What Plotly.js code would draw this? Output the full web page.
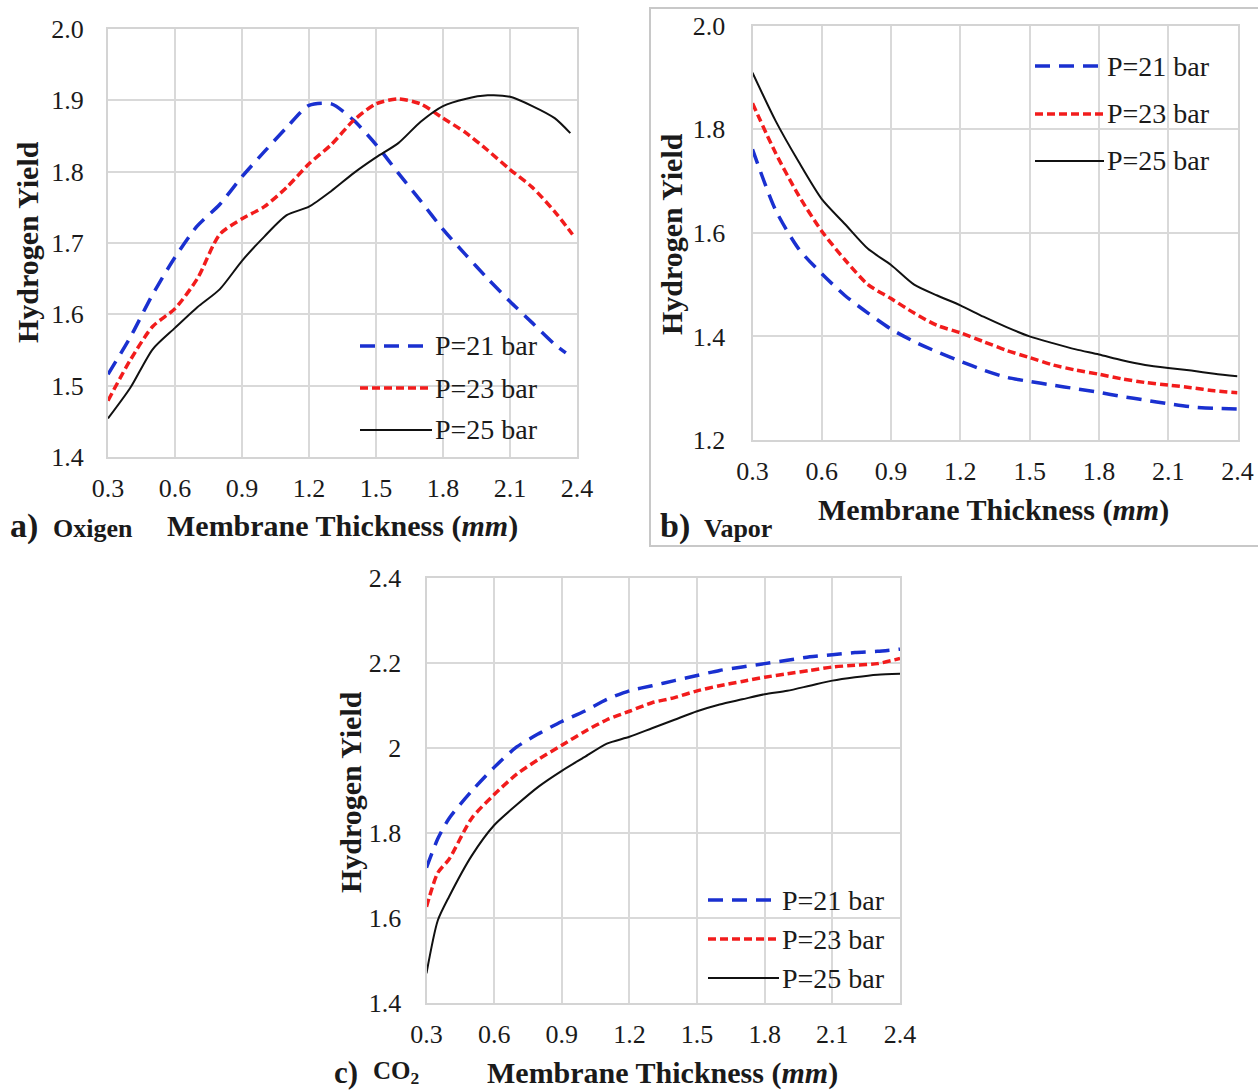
<!DOCTYPE html>
<html>
<head>
<meta charset="utf-8">
<script src="https://cdn.plot.ly/plotly-3.0.1.min.js"></script>
<style>html,body{margin:0;padding:0;background:#fff;}#chart{width:1258px;height:1091px;}</style>
</head>
<body>
<div id="chart"></div>
<script>
// ---------- data ----------
const seriesNames = ['P=21 bar', 'P=23 bar', 'P=25 bar'];

const xTickVals = [0.3, 0.6, 0.9, 1.2, 1.5, 1.8, 2.1, 2.4];
const xTickText = ['0.3', '0.6', '0.9', '1.2', '1.5', '1.8', '2.1', '2.4'];

// (a) Oxigen
const xA21 = [0.3,0.4,0.5,0.6,0.7,0.8,0.9,1.0,1.1,1.2,1.3,1.4,1.5,1.6,1.7,1.8,1.9,2.0,2.1,2.2,2.3,2.35];
const yA21 = [1.516,1.568,1.628,1.680,1.724,1.754,1.793,1.828,1.862,1.893,1.895,1.872,1.838,1.798,1.759,1.719,1.684,1.650,1.618,1.588,1.558,1.546];
const xA23 = [0.3,0.4,0.5,0.6,0.7,0.8,0.9,1.0,1.1,1.2,1.3,1.4,1.5,1.6,1.7,1.8,1.9,2.0,2.1,2.2,2.3,2.38];
const yA23 = [1.479,1.536,1.583,1.608,1.650,1.712,1.734,1.751,1.778,1.811,1.838,1.872,1.895,1.902,1.895,1.875,1.855,1.830,1.803,1.778,1.744,1.712];
const xA25 = [0.3,0.4,0.5,0.6,0.7,0.8,0.9,1.0,1.1,1.2,1.3,1.4,1.5,1.6,1.7,1.8,1.9,2.0,2.1,2.2,2.3,2.37];
const yA25 = [1.454,1.497,1.551,1.581,1.610,1.635,1.675,1.709,1.739,1.751,1.773,1.798,1.820,1.840,1.870,1.892,1.902,1.907,1.905,1.892,1.875,1.854];
const yTickValsA = [1.4, 1.5, 1.6, 1.7, 1.8, 1.9, 2.0];
const yTickTextA = ['1.4', '1.5', '1.6', '1.7', '1.8', '1.9', '2.0'];

// (b) Vapor
const xB = [0.3,0.4,0.5,0.6,0.7,0.8,0.9,1.0,1.1,1.2,1.3,1.4,1.5,1.6,1.7,1.8,1.9,2.0,2.1,2.2,2.3,2.4];
const yB21 = [1.761,1.644,1.569,1.521,1.479,1.445,1.414,1.390,1.370,1.352,1.335,1.321,1.313,1.306,1.299,1.292,1.284,1.277,1.270,1.264,1.261,1.260];
const yB23 = [1.850,1.754,1.672,1.603,1.548,1.500,1.473,1.445,1.421,1.407,1.390,1.373,1.359,1.345,1.335,1.327,1.318,1.311,1.306,1.301,1.295,1.291];
const yB25 = [1.909,1.816,1.737,1.665,1.617,1.569,1.538,1.500,1.479,1.460,1.438,1.418,1.400,1.387,1.375,1.365,1.354,1.345,1.339,1.334,1.328,1.323];
const yTickValsB = [1.2, 1.4, 1.6, 1.8, 2.0];
const yTickTextB = ['1.2', '1.4', '1.6', '1.8', '2.0'];

// (c) CO2
const xC = [0.3,0.35,0.4,0.5,0.6,0.7,0.8,0.9,1.0,1.1,1.2,1.3,1.4,1.5,1.6,1.7,1.8,1.9,2.0,2.1,2.2,2.3,2.4];
const yC21 = [1.718,1.786,1.834,1.898,1.954,2.002,2.034,2.062,2.086,2.114,2.134,2.146,2.158,2.170,2.182,2.190,2.198,2.206,2.214,2.219,2.224,2.227,2.232];
const yC23 = [1.626,1.706,1.738,1.834,1.890,1.938,1.974,2.006,2.038,2.066,2.086,2.106,2.118,2.134,2.146,2.156,2.166,2.174,2.182,2.190,2.194,2.198,2.210];
const yC25 = [1.470,1.594,1.650,1.746,1.818,1.866,1.910,1.946,1.978,2.010,2.026,2.046,2.066,2.086,2.102,2.114,2.126,2.134,2.146,2.158,2.166,2.172,2.174];
const yTickValsC = [1.4, 1.6, 1.8, 2.0, 2.2, 2.4];
const yTickTextC = ['1.4', '1.6', '1.8', '2', '2.2', '2.4'];

// ---------- styling ----------
const W = 1258, H = 1091;
const FONT = '"Liberation Serif", "Times New Roman", serif';
const TXT = '#1a1a1a';
const BLUE = '#1a30d0', RED = '#f21c1c', BLACK = '#111111';
const styles = [
  {color: BLUE, width: 3.5, dash: '15px,9px'},
  {color: RED, width: 3.5, dash: '8px,4px'},
  {color: BLACK, width: 2, dash: 'solid'}
];
const px = v => v / W;
const py = v => 1 - v / H;

function tr(x, y, i, xa, ya) {
  return {x: x, y: y, type: 'scatter', mode: 'lines', name: seriesNames[i],
    xaxis: xa, yaxis: ya, showlegend: false,
    line: {color: styles[i].color, width: styles[i].width, dash: styles[i].dash, shape: 'spline', smoothing: 0.7},
    hoverinfo: 'x+y'};
}

const data = [
  tr(xA21, yA21, 0, 'x', 'y'), tr(xA23, yA23, 1, 'x', 'y'), tr(xA25, yA25, 2, 'x', 'y'),
  tr(xB, yB21, 0, 'x2', 'y2'), tr(xB, yB23, 1, 'x2', 'y2'), tr(xB, yB25, 2, 'x2', 'y2'),
  tr(xC, yC21, 0, 'x3', 'y3'), tr(xC, yC23, 1, 'x3', 'y3'), tr(xC, yC25, 2, 'x3', 'y3')
];

function xax(dom, anchor, standoff) {
  return {domain: dom, anchor: anchor, range: [0.3, 2.4], tickmode: 'array',
    tickvals: xTickVals, ticktext: xTickText, showgrid: true, gridcolor: '#d9d9d9', gridwidth: 2,
    showline: true, linecolor: '#d4d4d4', linewidth: 2, mirror: true, zeroline: false,
    ticks: '', ticklabelstandoff: standoff, tickfont: {family: FONT, size: 26, color: TXT}, fixedrange: true};
}
function yax(dom, anchor, range, vals, text, standoff) {
  return {domain: dom, anchor: anchor, range: range, tickmode: 'array',
    tickvals: vals, ticktext: text, showgrid: true, gridcolor: '#d9d9d9', gridwidth: 2,
    showline: true, linecolor: '#d4d4d4', linewidth: 2, mirror: true, zeroline: false,
    ticks: '', ticklabelstandoff: standoff, tickfont: {family: FONT, size: 26, color: TXT}, fixedrange: true};
}

const annotations = [];
const shapes = [];
function ann(text, x, y, size, opts) {
  annotations.push(Object.assign({text: text, x: px(x), y: py(y), xref: 'paper', yref: 'paper',
    showarrow: false, font: {family: FONT, size: size, color: TXT}, xanchor: 'center', yanchor: 'middle'}, opts || {}));
}
// axis titles
ann('<b>Hydrogen Yield</b>', 27, 242, 30, {textangle: -90});
ann('<b>Hydrogen Yield</b>', 672, 234, 30, {textangle: -90});
ann('<b>Hydrogen Yield</b>', 350, 792, 30, {textangle: -90});
ann('<b>Membrane Thickness (<i>mm</i>)</b>', 342, 526, 30);
ann('<b>Membrane Thickness (<i>mm</i>)</b>', 993, 510, 30);
ann('<b>Membrane Thickness (<i>mm</i>)</b>', 662, 1073, 30);
// panel labels
ann('<b>a)</b>', 8, 526, 34, {xanchor: 'left'});
ann('<b>Oxigen</b>', 51, 528, 26, {xanchor: 'left'});
ann('<b>b)</b>', 658, 526, 34, {xanchor: 'left'});
ann('<b>Vapor</b>', 702, 528, 26, {xanchor: 'left'});
ann('<b>c)</b>', 332, 1072, 31, {xanchor: 'left'});
ann('<b>CO<sub>2</sub></b>', 371, 1072, 25, {xanchor: 'left'});

// legends
function legend(x0, x1, rows, tx) {
  for (let i = 0; i < 3; i++) {
    shapes.push({type: 'line', xref: 'paper', yref: 'paper', x0: px(x0), x1: px(x1), y0: py(rows[i]), y1: py(rows[i]),
      line: {color: styles[i].color, width: styles[i].width, dash: styles[i].dash}});
    ann(seriesNames[i], tx, rows[i], 28, {xanchor: 'left'});
  }
}
legend(360, 432, [346, 388, 430], 433);
legend(1035, 1104, [66, 114, 161], 1105);
legend(708, 779, [900, 939, 978], 780);

// panel b frame
shapes.push({type: 'rect', xref: 'paper', yref: 'paper', x0: px(650), x1: px(1262), y0: py(546), y1: py(8),
  line: {color: '#c8c8c8', width: 2}, fillcolor: 'rgba(0,0,0,0)', layer: 'below'});

const layout = {
  width: W, height: H, margin: {l: 0, r: 0, t: 0, b: 0}, paper_bgcolor: '#fff', plot_bgcolor: '#fff',
  showlegend: false,
  xaxis: xax([px(108), px(577)], 'y', 7),
  yaxis: yax([py(457), py(29)], 'x', [1.4, 2.0], yTickValsA, yTickTextA, 17),
  xaxis2: xax([px(752.5), px(1237.5)], 'y2', 7),
  yaxis2: yax([py(440), py(25.6)], 'x2', [1.2, 2.0], yTickValsB, yTickTextB, 20),
  xaxis3: xax([px(426.5), px(900)], 'y3', 7),
  yaxis3: yax([py(1003), py(577.7)], 'x3', [1.4, 2.4], yTickValsC, yTickTextC, 18),
  annotations: annotations, shapes: shapes
};

Plotly.newPlot('chart', data, layout, {displayModeBar: false, staticPlot: true});
</script>
</body>
</html>
